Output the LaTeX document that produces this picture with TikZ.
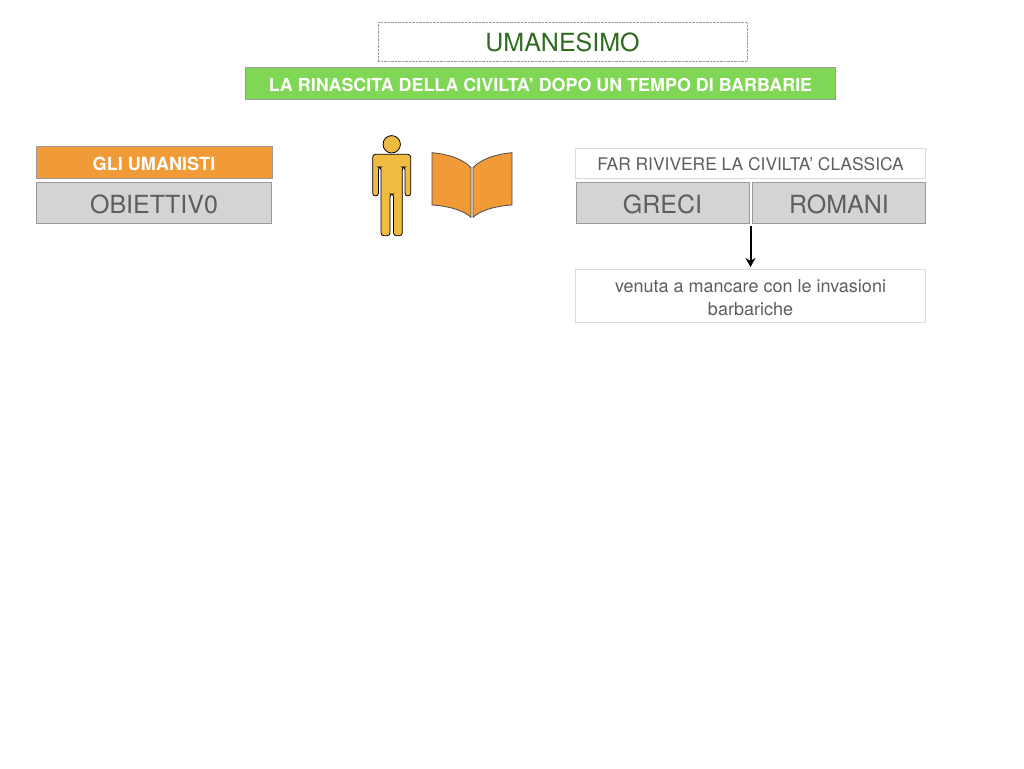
\documentclass[tikz,border=0pt]{standalone}
\usepackage{fontspec}
\usepackage{xcolor}
\setmainfont{TeX Gyre Heros}
\usetikzlibrary{arrows.meta}
\definecolor{verde}{HTML}{80D756}
\definecolor{verdescuro}{HTML}{2F6B1E}
\definecolor{arancio}{HTML}{F09A38}
\definecolor{giallo}{HTML}{EFBB40}
\definecolor{grigio}{HTML}{D5D3D4}
\definecolor{bordo}{HTML}{9A9A9A}
\definecolor{testo}{HTML}{5E5E5E}
\definecolor{chiaro}{HTML}{DADADA}
\tikzstyle{titolo} = [rectangle, minimum width=369pt, minimum height=38pt, text height=19pt, text depth=0pt, text centered, draw=bordo, densely dotted, text=verdescuro, font=\fontsize{25}{25}\selectfont]
\tikzstyle{fascia} = [rectangle, minimum width=590pt, minimum height=32pt, text height=15pt, text depth=0pt, text centered, draw=bordo, fill=verde, text=white, font=\fontsize{17.9}{17.9}\selectfont\bfseries]
\tikzstyle{etichetta} = [rectangle, minimum width=236pt, minimum height=32pt, text height=15pt, text depth=0pt, text centered, draw=bordo, fill=arancio, text=white, font=\fontsize{18.1}{18.1}\selectfont\bfseries]
\tikzstyle{voce} = [rectangle, minimum height=41pt, text height=20pt, text depth=0pt, text centered, draw=bordo, fill=grigio, text=testo, font=\fontsize{25}{25}\selectfont]
\tikzstyle{nota} = [rectangle, minimum width=350pt, text depth=0pt, text centered, draw=chiaro, fill=white, text=testo, font=\fontsize{18}{22.5}\selectfont]
\tikzstyle{arrow} = [line width=2pt,-{Stealth[length=9pt,width=10pt]},shorten >=2pt]
\begin{document}
\begin{tikzpicture}[x=1pt,y=1pt,inner sep=0pt,outer sep=0pt]
   \useasboundingbox (0,0) rectangle (1024,-768);
   \node (umanesimo) [titolo] at (562.5,-41.7) {UMANESIMO};
   \node (rinascita) [fascia] at (540.5,-83.5) {LA RINASCITA DELLA CIVILTA’ DOPO UN TEMPO DI BARBARIE};
   \node (umanisti) [etichetta] at (154,-162.5) {GLI UMANISTI};
   \node (obiettivo) [voce, minimum width=235pt] at (154,-203) {OBIETTIV0};
   \node (civilta) [nota, minimum height=30pt, text height=14.5pt, font=\fontsize{17.4}{17.4}\selectfont] at (750.5,-163) {FAR RIVIVERE LA CIVILTA’ CLASSICA};
   \node (greci) [voce, minimum width=173pt] at (662.5,-203) {GRECI};
   \node (romani) [voce, minimum width=173pt] at (839,-203) {ROMANI};
   \node (venuta) [nota, minimum height=53pt, text height=39pt, align=center] at (750.5,-295.5) {venuta a mancare con le invasioni\\barbariche};
   \coordinate (partenza) at (750.5,-226);
   \draw [arrow] (partenza) -- (venuta.north);
   % omino
   \draw [fill=giallo, line width=0.8pt] (391.7,-144.3) circle (8.7);
   \draw [fill=giallo, line width=0.8pt, rounded corners=2.8pt] (391.7,-154.3) -- (410.7,-154.3) -- (410.7,-196) -- (405,-196) -- (405,-167) -- (402.3,-167) -- (402.3,-235.7) -- (393.5,-235.7) -- (393.5,-194) -- (390,-194) -- (390,-235.7) -- (381,-235.7) -- (381,-167) -- (378.4,-167) -- (378.4,-196) -- (372.7,-196) -- (372.7,-154.3) -- cycle;
   % libro
   \draw [fill=arancio, draw=black!70, line width=0.8pt] (432,-152.7) .. controls (448,-154) and (463,-159) .. (471,-167.7) -- (471,-217.3) .. controls (463,-210) and (448,-206) .. (432,-205) -- cycle;
   \draw [fill=arancio, draw=black!70, line width=0.8pt] (512,-152.7) .. controls (496,-154) and (481,-159) .. (473,-167.7) -- (473,-217.3) .. controls (481,-210) and (496,-206) .. (512,-205) -- cycle;
\end{tikzpicture}
\end{document}
